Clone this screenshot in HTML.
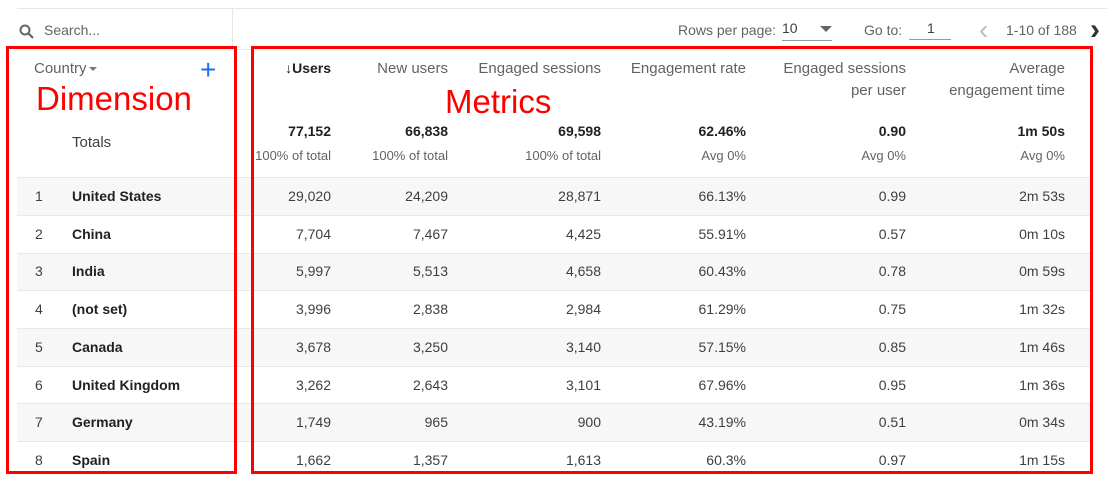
<!DOCTYPE html>
<html><head><style>
body{margin:0;width:1116px;height:478px;background:#fff;font-family:"Liberation Sans",sans-serif;position:relative;overflow:hidden;color:#3c4043}
.a{position:absolute;white-space:nowrap}
.r{text-align:right}
.h{color:#5f6368;font-size:14px}
.hh{color:#5f6368;font-size:15px}
.d{font-size:14px;color:#3c4043}
.band{position:absolute;left:17px;width:1073px;height:37px;background:#f7f7f7}
.line{position:absolute;left:17px;width:1073px;height:1px;background:#e8e8e8}
.box{position:absolute;border:3px solid #f00;box-sizing:border-box}
</style></head><body>
<div class="a" style="left:17px;top:8px;width:1090px;height:1px;background:#e6e6e6"></div>
<div class="a" style="left:232px;top:9px;width:1px;height:40px;background:#e6e6e6"></div>
<svg class="a" style="left:19px;top:24px" width="16" height="16"><circle cx="6" cy="6" r="4.5" fill="none" stroke="#666" stroke-width="2"/><line x1="9.5" y1="9.5" x2="14" y2="14" stroke="#666" stroke-width="2.2"/></svg>
<div class="a h" style="left:44px;top:22px;font-size:14px">Search...</div>
<div class="a h" style="left:678px;top:22px">Rows per page:</div>
<div class="a d" style="left:782px;top:20px">10</div>
<div class="a" style="left:820px;top:26px;width:0;height:0;border-left:6px solid transparent;border-right:6px solid transparent;border-top:6px solid #666"></div>
<div class="a" style="left:782px;top:40px;width:50px;height:1px;background:#999"></div>
<div class="a h" style="left:864px;top:22px">Go to:</div>
<div class="a d" style="left:927px;top:20px">1</div>
<div class="a" style="left:909px;top:39px;width:42px;height:1px;background:#999"></div>
<div class="a" style="left:979px;top:14px;font-size:28px;color:#bbb">&#x2039;</div>
<div class="a h" style="left:1006px;top:22px">1-10 of 188</div>
<div class="a" style="left:1090px;top:13px;font-size:30px;color:#333;font-weight:bold">&#x203A;</div>
<div class="a" style="left:17px;top:49px;width:1073px;height:1px;background:#eee"></div>

<div class="band" style="top:178px"></div>
<div class="band" style="top:253px"></div>
<div class="band" style="top:329px"></div>
<div class="band" style="top:404px"></div>
<div class="line" style="top:177px"></div>
<div class="line" style="top:215px"></div>
<div class="line" style="top:253px"></div>
<div class="line" style="top:290px"></div>
<div class="line" style="top:328px"></div>
<div class="line" style="top:366px"></div>
<div class="line" style="top:403px"></div>
<div class="line" style="top:441px"></div>

<div class="a hh" style="left:34px;top:60px">Country</div>
<div class="a" style="left:89px;top:67px;border-left:4px solid transparent;border-right:4px solid transparent;border-top:4px solid #777"></div>
<div class="a" style="left:200px;top:54px;font-size:28px;color:#1a73e8;font-weight:300">+</div>
<div class="a" style="left:36px;top:80px;font-size:33px;color:#f00">Dimension</div>
<div class="a" style="left:445px;top:83px;font-size:33px;color:#f00">Metrics</div>
<div class="a d" style="left:72px;top:134px;font-size:15px">Totals</div>

<div id="hdr"></div>
<script>
const R=[331,448,601,746,906,1065];
const H=[['↓Users'],['New users'],['Engaged sessions'],['Engagement rate'],['Engaged sessions','per user'],['Average','engagement time']];
const T=['77,152','66,838','69,598','62.46%','0.90','1m 50s'];
const S=['100% of total','100% of total','100% of total','Avg 0%','Avg 0%','Avg 0%'];
const D=[['United States','29,020','24,209','28,871','66.13%','0.99','2m 53s'],
['China','7,704','7,467','4,425','55.91%','0.57','0m 10s'],
['India','5,997','5,513','4,658','60.43%','0.78','0m 59s'],
['(not set)','3,996','2,838','2,984','61.29%','0.75','1m 32s'],
['Canada','3,678','3,250','3,140','57.15%','0.85','1m 46s'],
['United Kingdom','3,262','2,643','3,101','67.96%','0.95','1m 36s'],
['Germany','1,749','965','900','43.19%','0.51','0m 34s'],
['Spain','1,662','1,357','1,613','60.3%','0.97','1m 15s']];
let h='';
R.forEach((x,i)=>{
 H[i].forEach((t,j)=>{h+=`<div class="a hh r" style="right:${1116-x}px;top:${60+j*22}px;${i==0?'color:#202124;font-weight:bold;font-size:14px':''}">${t}</div>`});
 h+=`<div class="a r" style="right:${1116-x}px;top:123px;font-size:14px;font-weight:bold;color:#202124">${T[i]}</div>`;
 h+=`<div class="a r" style="right:${1116-x}px;top:148px;font-size:13px;color:#5f6368">${S[i]}</div>`;
});
D.forEach((r,k)=>{const y=188+k*37.7;
 h+=`<div class="a d" style="left:35px;top:${y}px">${k+1}</div><div class="a d" style="left:72px;top:${y}px;font-weight:bold;color:#202124">${r[0]}</div>`;
 R.forEach((x,i)=>{h+=`<div class="a d r" style="right:${1116-x}px;top:${y}px">${r[i+1]}</div>`});
});
document.getElementById('hdr').innerHTML=h;
</script>
<div class="box" style="left:6px;top:46px;width:231px;height:428px"></div>
<div class="box" style="left:251px;top:46px;width:842px;height:428px"></div>
</body></html>
